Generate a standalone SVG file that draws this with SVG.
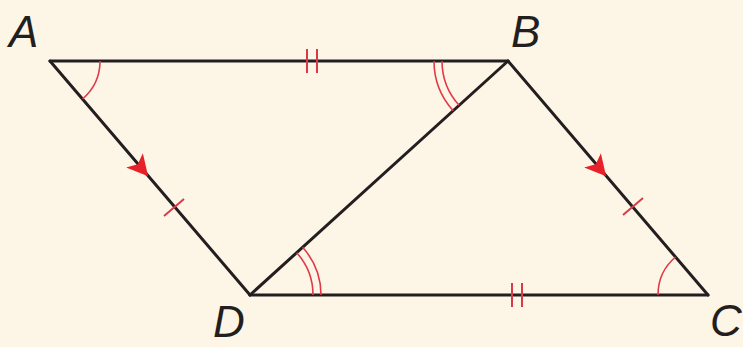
<svg xmlns="http://www.w3.org/2000/svg" width="743" height="347" viewBox="0 0 743 347">
<defs>
<style>
.edge{stroke:#231f20;stroke-width:3;fill:none;stroke-linecap:round;stroke-linejoin:round}
.arc{stroke:#e03a48;stroke-width:1.6;fill:none}
.tick{stroke:#d93a48;stroke-width:2;fill:none}
.arrow{fill:#e8202a}
.lbl{font-family:"Liberation Sans",Arial,sans-serif;font-style:italic;font-size:44px;fill:#231f20}
</style>
</defs>
<rect width="743" height="347" fill="#fdf6e7"/>
<g id="connectors">
<path class="edge" d="M50,61 L508,61"/>
<path class="edge" d="M50,61 L250,295"/>
<path class="edge" d="M508,61 L250,295"/>
<path class="edge" d="M508,61 L708,295"/>
<path class="edge" d="M250,295 L708,295"/>
</g>
<g id="marks">
<path class="arc" d="M100,61 A50,50 0 0 1 82.5,99"/>
<path class="arc" d="M459.1,105.3 A66,66 0 0 1 442,61"/>
<path class="arc" d="M453.2,110.7 A74,74 0 0 1 434,61"/>
<path class="arc" d="M296.7,252.7 A63,63 0 0 1 313,295"/>
<path class="arc" d="M302.6,247.3 A71,71 0 0 1 321,295"/>
<path class="arc" d="M658,295 A50,50 0 0 1 675.5,257"/>
<path class="tick" d="M307,49 L307,73 M317,49 L317,73"/>
<path class="tick" d="M512,283 L512,307 M522,283 L522,307"/>
<path class="tick" d="M164,216 L184,199"/>
<path class="tick" d="M623,215 L643,198"/>
<path class="arrow" d="M11,0 L-10,-11 L-5,0 L-10,11 Z" transform="translate(141,168) rotate(49.5)"/>
<path class="arrow" d="M11,0 L-10,-11 L-5,0 L-10,11 Z" transform="translate(599,168) rotate(49.5)"/>
</g>
<g id="A"><text class="lbl" x="9" y="47">A</text></g>
<g id="B"><text class="lbl" x="511" y="47">B</text></g>
<g id="D"><text class="lbl" x="213" y="337">D</text></g>
<g id="C"><text class="lbl" x="710" y="336">C</text></g>
</svg>
